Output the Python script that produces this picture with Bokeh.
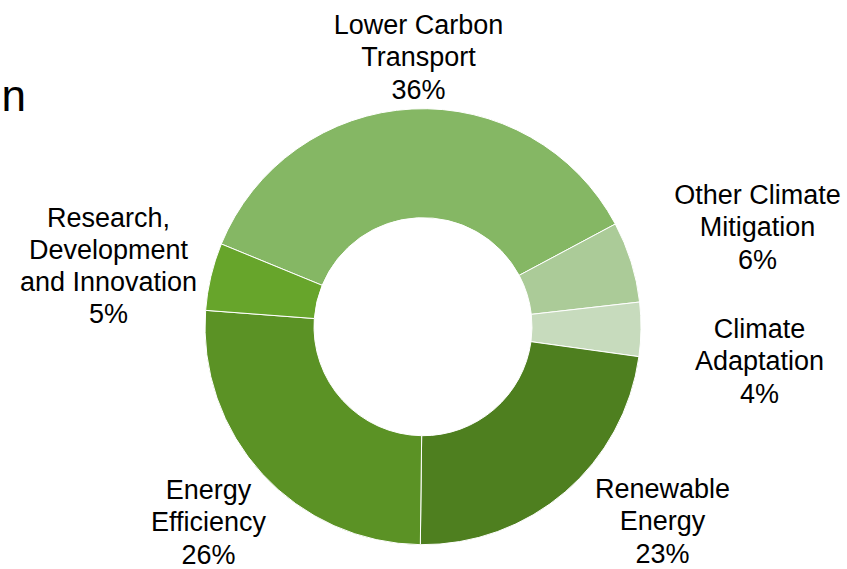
import numpy as np
from bokeh.plotting import figure
from bokeh.models import ColumnDataSource, Range1d
from bokeh.core.properties import value
from bokeh.embed import file_html
from bokeh.resources import INLINE

# Data (clockwise order, starting with Lower Carbon Transport)
categories = ["Lower Carbon\nTransport", "Other Climate\nMitigation", "Climate\nAdaptation",
              "Renewable\nEnergy", "Energy\nEfficiency", "Research,\nDevelopment\nand Innovation"]
shares = [36, 6, 4, 23, 26, 5]
colors = ["#85b764", "#abcb98", "#c7dbbd", "#4e7f1f", "#5b9225", "#67a52b"]

W, H = 847, 569
cx, cy = 422.5, H - 326.2
r_out, r_in = 218, 109
start_cw = -67.7  # degrees clockwise from 12 o'clock where first slice starts

vals = np.array(shares, dtype=float)
frac = vals / vals.sum()
cum = np.concatenate([[0], np.cumsum(frac)]) * 360.0
theta0 = start_cw + cum[:-1]
theta1 = start_cw + cum[1:]
# convert clockwise-from-top to bokeh math angles
start = np.deg2rad(90 - theta0)
end = np.deg2rad(90 - theta1)

src = ColumnDataSource(dict(start=start, end=end, color=colors))

p = figure(width=W, height=H, output_backend="svg", toolbar_location=None,
           x_range=Range1d(0, W), y_range=Range1d(0, H), min_border=0)
p.axis.visible = False
p.grid.visible = False
p.outline_line_color = None
p.background_fill_color = "white"

p.annular_wedge(x=cx, y=cy, inner_radius=r_in, outer_radius=r_out,
                start_angle="start", end_angle="end", direction="clock",
                fill_color="color", line_color="white", line_width=1, source=src)

# label positions (pixel coords of label block centres, measured from top)
label_xy = [(418, 57), (757, 227), (759, 361), (662, 521), (208, 522), (108, 265.5)]
labels = [f"{c}\n{int(v)}%" for c, v in zip(categories, shares)]
lsrc = ColumnDataSource(dict(x=[xy[0] for xy in label_xy],
                             y=[H - xy[1] for xy in label_xy],
                             t=labels))
p.text(x="x", y="y", text="t", source=lsrc, text_align="center", text_baseline="middle",
       text_font=value("Liberation Sans"), text_font_size="27px", text_line_height=1.07,
       text_color="#000000")

# cropped title remnant
p.text(x=[1], y=[H - 95], text=["n"], text_align="left", text_baseline="middle",
       text_font=value("Liberation Sans"), text_font_size="44px", text_color="#000000")

open("out.html", "w").write(file_html(p, INLINE))
